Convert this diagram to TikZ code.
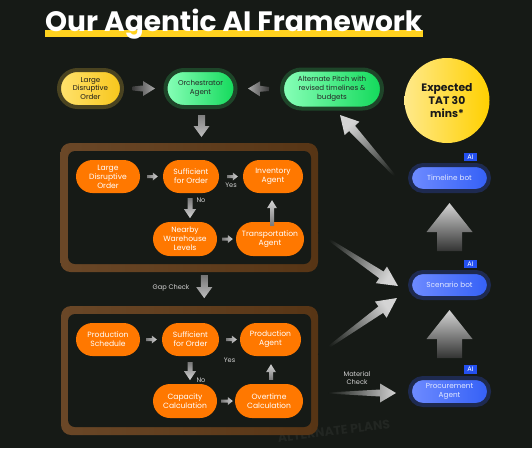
\documentclass[tikz,border=0pt]{standalone}
\usepackage{fontspec}
\setmainfont{Poppins}
\usetikzlibrary{calc}
\definecolor{bgc}{HTML}{161A16}
\definecolor{ttlyellow}{HTML}{FFD21F}
\definecolor{orng}{HTML}{FF7800}
\definecolor{brownA}{HTML}{6A4727}
\definecolor{brownB}{HTML}{573515}
\definecolor{yelA}{HTML}{FFE26E}
\definecolor{yelB}{HTML}{F7C61A}
\definecolor{yelRing}{HTML}{4A4320}
\definecolor{grnA}{HTML}{88FFB8}
\definecolor{grnB}{HTML}{12D95A}
\definecolor{grnRing}{HTML}{1E4529}
\definecolor{bluA}{HTML}{6E8BFF}
\definecolor{bluB}{HTML}{3460F6}
\definecolor{bluRing}{HTML}{1E2A50}
\definecolor{bluTxt}{HTML}{E2E8FF}
\definecolor{badge}{HTML}{2450F0}
\definecolor{circA}{HTML}{FFE98A}
\definecolor{circB}{HTML}{FFD000}
\definecolor{lbl}{HTML}{D2D2D2}
\definecolor{wmc}{HTML}{222622}
\definecolor{arrDark}{HTML}{3A3A3A}
\definecolor{arrLight}{HTML}{D4D4D4}

\newcommand\fatarrow[7]{%
  \coordinate (fanode) at ($(#3)!#7!(#2)$);
  \path[#1] ($(#2)!#4!90:(#3)$) -- ($(fanode)!#5!-90:(#2)$) -- ($(fanode)!#6!-90:(#2)$) -- (#3)
    -- ($(fanode)!#6!90:(#2)$) -- ($(fanode)!#5!90:(#2)$) -- ($(#2)!#4!-90:(#3)$) -- cycle;
}

\begin{document}
\begin{tikzpicture}[x=1pt,y=-1pt,
  pillbase/.style={inner sep=1pt, align=center},
  yelpill/.style={pillbase, draw=yelRing, line width=4pt, left color=yelA, right color=yelB,
     text=black!90, font=\fontsize{7.1}{8.8}\selectfont},
  grnpill/.style={pillbase, draw=grnRing, line width=4pt, left color=grnA, right color=grnB,
     text=black!85, font=\fontsize{7.1}{8.8}\selectfont},
  orpill/.style={pillbase, fill=orng, text=white, rounded corners=16.5pt, minimum height=33pt,
     font=\fontsize{7.6}{9}\selectfont},
  blupill/.style={pillbase, draw=bluRing, line width=4pt, left color=bluA, right color=bluB,
     text=bluTxt, rounded corners=13pt, minimum width=79pt, minimum height=26pt,
     font=\fontsize{7.3}{8.8}\selectfont},
  aibadge/.style={fill=badge, text=white, inner sep=0pt, minimum width=13pt, minimum height=8.5pt,
     font=\fontsize{6.6}{7}\selectfont},
  lbltext/.style={text=lbl, inner sep=0pt, font=\fontsize{6.6}{7.8}\selectfont, align=center},
  boxouter/.style={left color=brownA, right color=brownB, rounded corners=10pt},
  boxinner/.style={fill=bgc, rounded corners=7pt},
  smallarr/.style={top color=arrLight, bottom color=arrDark!60!arrLight},
]
\useasboundingbox (0,0) rectangle (532,448);
\fill[bgc] (0,0) rectangle (532,448);

% watermark (behind everything)
\node[rotate=7, text=wmc, inner sep=0pt, font=\bfseries\fontsize{12.5}{13}\selectfont] (wm) at (334,431) {ALTERNATE PLANS};

% title
\fill[ttlyellow] (45,30) rectangle (423,37);
\node[anchor=base west, inner sep=0pt, text=white] (title) at (45,31)
  {\resizebox{377pt}{!}{\bfseries Our Agentic AI Framework}};

% top row
\node[yelpill, minimum width=63pt, minimum height=37pt, rounded corners=18.5pt] (ldo) at (90.5,88.5) {Large\\Disruptive\\Order};
\node[grnpill, minimum width=70pt, minimum height=37pt, rounded corners=18.5pt] (orch) at (200.5,88.5) {Orchestrator\\Agent};
\node[grnpill, minimum width=100pt, minimum height=39pt, rounded corners=19.5pt] (alt) at (332,89) {Alternate Pitch with\\revised timelines \&\\budgets};

\node[circle, minimum size=85pt, inner sep=0pt, left color=circA, right color=circB, align=center,
  text=black!90, font=\bfseries\fontsize{10.8}{12.6}\selectfont] (tat) at (447,100.5) {Expected\\TAT 30\\mins*};

\coordinate (a1s) at ($(ldo.east)+(8.5,0)$);
\coordinate (a1e) at ($(orch.west)+(-8.5,0)$);
\fatarrow{top color=arrLight!80!black, bottom color=arrDark, shading angle=-90}{a1s}{a1e}{2pt}{3pt}{7.5pt}{12pt}
\coordinate (a2s) at ($(alt.west)+(-11,0)$);
\coordinate (a2e) at ($(orch.east)+(10.5,0)$);
\fatarrow{top color=arrLight!80!black, bottom color=arrDark, shading angle=90}{a2s}{a2e}{2pt}{3pt}{7.5pt}{12pt}
\coordinate (a3s) at ($(orch.south)+(1,6)$);
\coordinate (a3e) at ($(orch.south)+(1,28)$);
\fatarrow{top color=arrLight!90!black, bottom color=arrLight!60!black, shading angle=-180}{a3s}{a3e}{3.5pt}{3.5pt}{8pt}{11pt}

% upper box
\node[boxouter, minimum width=257.5pt, minimum height=129pt, inner sep=0pt] (ubox) at (189.25,207.5) {};
\node[boxinner, minimum width=243pt, minimum height=113pt, inner sep=0pt] (uboxin) at (189.5,207.5) {};
\node[orpill, minimum width=64pt] (u1) at (108,176.5) {Large\\Disruptive\\Order};
\node[orpill, minimum width=56pt] (u2) at (191,176.5) {Sufficient\\for Order};
\node[orpill, minimum width=60pt] (u3) at (273,176.5) {Inventory\\Agent};
\node[orpill, minimum width=64pt, minimum height=34pt, rounded corners=17pt] (u4) at (185,239) {Nearby\\Warehouse\\Levels};
\node[orpill, minimum width=68pt, minimum height=34pt, rounded corners=17pt] (u5) at (270,239) {Transportation\\Agent};

\coordinate (ua1s) at ($(u1.east)+(7,0)$);   \coordinate (ua1e) at ($(u2.west)+(-5,0)$);
\fatarrow{smallarr, shading angle=-90}{ua1s}{ua1e}{1.5pt}{1.5pt}{4pt}{5pt}
\coordinate (ua2s) at ($(u2.east)+(8,0)$);   \coordinate (ua2e) at ($(u3.west)+(-5,0)$);
\fatarrow{smallarr, shading angle=-90}{ua2s}{ua2e}{1.5pt}{1.5pt}{4pt}{5pt}
\coordinate (ua3s) at ($(u2.south)+(-1,5)$); \coordinate (ua3e) at ($(u2.south)+(-1,25)$);
\fatarrow{smallarr, shading angle=-180}{ua3s}{ua3e}{2.5pt}{2.5pt}{6pt}{9pt}
\coordinate (ua4s) at ($(u4.east)+(5,0)$);   \coordinate (ua4e) at ($(u5.west)+(-3,0)$);
\fatarrow{smallarr, shading angle=-90}{ua4s}{ua4e}{1.5pt}{1.5pt}{4pt}{5pt}
\coordinate (ua5s) at ($(u5.north)+(2,4)$);  \coordinate (ua5e) at ($(u3.south)+(-1,7)$);
\fatarrow{smallarr, shading angle=0}{ua5s}{ua5e}{2pt}{2pt}{5pt}{8pt}
\node[lbltext] (uyes) at (231,185.5) {Yes};
\node[lbltext] (uno) at (201,200) {No};

% gap check
\coordinate (gcs) at ($(ubox.south)+(15,3)$);
\coordinate (gce) at ($(ubox.south)+(15,26)$);
\fatarrow{top color=arrLight!90!black, bottom color=arrLight!55!black, shading angle=-180}{gcs}{gce}{3.5pt}{3.5pt}{8pt}{11pt}
\node[lbltext] (gap) at (171,288) {Gap Check};

% lower box
\node[boxouter, minimum width=257pt, minimum height=129pt, inner sep=0pt] (lbox) at (189.5,370.5) {};
\node[boxinner, minimum width=243pt, minimum height=113pt, inner sep=0pt] (lboxin) at (189.5,370.5) {};
\node[orpill, minimum width=64pt] (l1) at (108,339.5) {Production\\Schedule};
\node[orpill, minimum width=57pt] (l2) at (190.5,339.5) {Sufficient\\for Order};
\node[orpill, minimum width=61pt] (l3) at (270.5,339.5) {Production\\Agent};
\node[orpill, minimum width=64pt, minimum height=34pt, rounded corners=17pt] (l4) at (185,401) {Capacity\\Calculation};
\node[orpill, minimum width=68pt, minimum height=34pt, rounded corners=17pt] (l5) at (269,401) {Overtime\\Calculation};

\coordinate (la1s) at ($(l1.east)+(6,0)$);   \coordinate (la1e) at ($(l2.west)+(-5,0)$);
\fatarrow{smallarr, shading angle=-90}{la1s}{la1e}{1.5pt}{1.5pt}{4pt}{5pt}
\coordinate (la2s) at ($(l2.east)+(7,0)$);   \coordinate (la2e) at ($(l3.west)+(-3,0)$);
\fatarrow{smallarr, shading angle=-90}{la2s}{la2e}{1.5pt}{1.5pt}{4pt}{5pt}
\coordinate (la3s) at ($(l2.south)+(-0.5,6)$); \coordinate (la3e) at ($(l2.south)+(-0.5,24)$);
\fatarrow{smallarr, shading angle=-180}{la3s}{la3e}{2.5pt}{2.5pt}{6pt}{9pt}
\coordinate (la4s) at ($(l4.east)+(4,0)$);   \coordinate (la4e) at ($(l5.west)+(-2,0)$);
\fatarrow{smallarr, shading angle=-90}{la4s}{la4e}{1.5pt}{1.5pt}{4pt}{5pt}
\coordinate (la5s) at ($(l5.north)+(2,-4)$); \coordinate (la5e) at ($(l3.south)+(0.5,8)$);
\fatarrow{smallarr, shading angle=0}{la5s}{la5e}{2pt}{2pt}{5pt}{8pt}
\node[lbltext] (lyes) at (229.5,360) {Yes};
\node[lbltext] (lno) at (201,380) {No};

% right column
\node[blupill] (tb) at (449.5,178) {Timeline bot};
\node[blupill] (sb) at (449.5,285) {Scenario bot};
\node[blupill, minimum height=27pt] (pa) at (449.5,391.5) {Procurement\\Agent};
\node[aibadge] (ai1) at ($(tb.north)+(21,-6)$) {AI};
\node[aibadge] (ai2) at ($(sb.north)+(21,-6)$) {AI};
\node[aibadge] (ai3) at ($(pa.north)+(21,-6.5)$) {AI};

\coordinate (b1s) at ($(sb.north)+(0,-19)$); \coordinate (b1e) at ($(tb.south)+(0,10)$);
\fatarrow{top color=arrLight, bottom color=arrDark!80!bgc, shading angle=0}{b1s}{b1e}{12.5pt}{12.5pt}{23pt}{29pt}
\coordinate (b2s) at ($(pa.north)+(0,-18)$); \coordinate (b2e) at ($(sb.south)+(0,10)$);
\fatarrow{top color=arrLight, bottom color=arrDark!80!bgc, shading angle=0}{b2s}{b2e}{12.5pt}{12.5pt}{23pt}{29pt}

% tapered arrows
\coordinate (t1s) at ($(ubox.east)+(0,25)$); \coordinate (t1e) at ($(sb.west)+(-10,1)$);
\fatarrow{top color=arrLight, bottom color=bgc, shading angle=-122}{t1s}{t1e}{0.5pt}{4pt}{10pt}{20pt}
\coordinate (t2s) at ($(lbox.east)+(0,-16)$); \coordinate (t2e) at ($(sb.west)+(-11,13)$);
\fatarrow{top color=arrLight, bottom color=bgc, shading angle=-55}{t2s}{t2e}{0.5pt}{4pt}{10pt}{20pt}
\coordinate (t3s) at ($(lbox.east)+(10,22.5)$); \coordinate (t3e) at ($(pa.west)+(-12,1.5)$);
\fatarrow{top color=arrLight, bottom color=bgc, shading angle=-90}{t3s}{t3e}{0.5pt}{3.5pt}{9.5pt}{16pt}
\node[lbltext] (mat) at (357,378) {Material\\Check};
\coordinate (t4s) at (403,185); \coordinate (t4e) at ($(alt.south)+(8,4.5)$);
\fatarrow{top color=arrLight, bottom color=bgc, shading angle=41}{t4s}{t4e}{0.5pt}{4pt}{10pt}{18pt}
\end{tikzpicture}
\end{document}
